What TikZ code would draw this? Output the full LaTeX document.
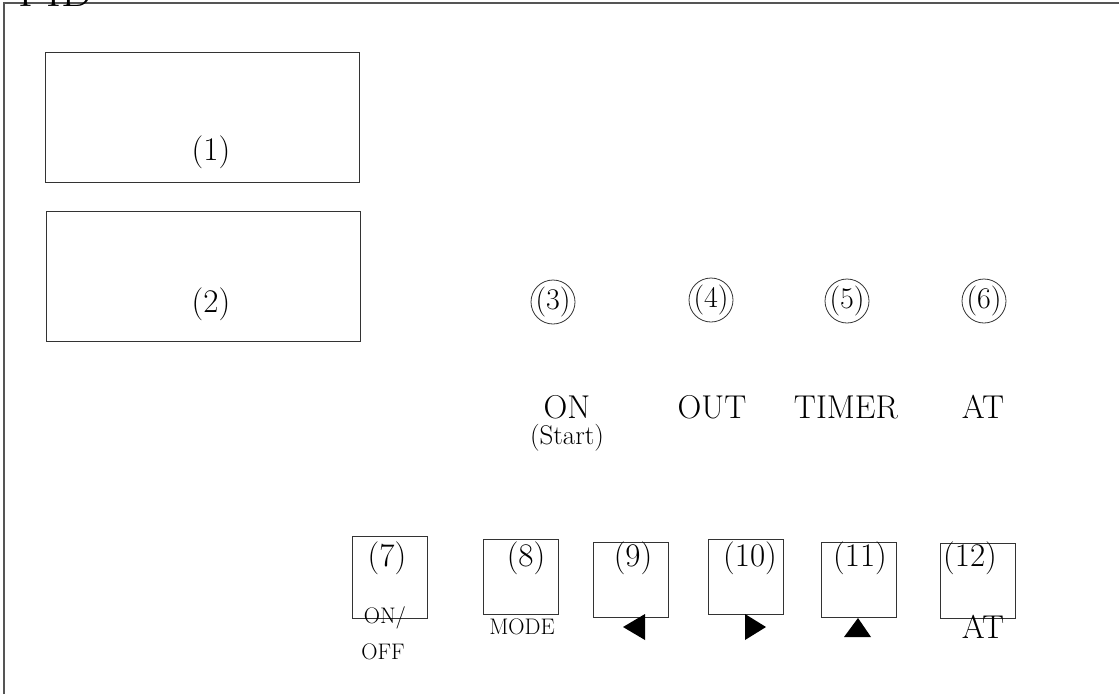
\documentclass[tikz,border=0pt]{standalone}
\usepackage{xcolor}
\definecolor{edge}{HTML}{333333}
\definecolor{frame}{HTML}{555555}
\newcommand{\lampno}[1]{{(#1)}}

\begin{document}
\begin{tikzpicture}[x=1pt,y=-1pt,line width=0.8pt,
    font=\fontsize{33}{37}\selectfont,
    disp/.style={draw=edge,minimum width=314pt,minimum height=130pt,inner sep=0pt},
    lamp/.style={draw=edge,circle,inner sep=-2pt,minimum size=44pt,font=\fontsize{30}{34}\selectfont},
    key/.style={draw=edge,minimum width=75pt,minimum height=75pt,inner sep=0pt},
    small/.style={font=\fontsize{22.5}{26}\selectfont}]
  \useasboundingbox (0,0) rectangle (1119,694);

  % outer frame, title mostly above the page
  \draw[line width=1.2pt,frame] (4,694) -- (4,3) -- (1119,3);
  \node[anchor=base west,inner sep=0pt,font=\fontsize{45}{50}\selectfont] (title) at (18,6) {PID};

  % the two displays
  \node[disp](d1) at (202,117) {};
  \node(n1) at (211,152) {(1)};
  \node[disp](d2) at (203,276) {};
  \node(n2) at (211,304) {(2)};

  % lamps
  \node[lamp](l3) at (553,302) {\lampno{3}};
  \node[lamp](l4) at (711,300) {\lampno{4}};
  \node[lamp](l5) at (847,301) {\lampno{5}};
  \node[lamp](l6) at (984,301) {\lampno{6}};

  \node(on) at (567,407) {ON};
  \node[font=\fontsize{27}{30}\selectfont](start) at (567,438) {(Start)};
  \node(out) at (712,407) {OUT};
  \node(timer) at (846,407) {TIMER};
  \node(at) at (983,407) {AT};

  % keys
  \node[key,minimum height=82pt](k7) at (389.5,577) {};
  \node(n7) at (387,558) {(7)};
  \node[small](onoff) at (385,618) {ON/};
  \node[small](off) at (383,652) {OFF};

  \node[key](k8) at (521,576.5) {};
  \node(n8) at (526,558) {(8)};
  \node[small](mode) at (522,627) {MODE};

  \node[key](k9) at (631,579.5) {};
  \node(n9) at (633,558) {(9)};
  \fill (623,627) -- (645,614) -- (645,640) -- cycle;

  \node[key](k10) at (745.5,576.5) {};
  \node(n10) at (750,558) {(10)};
  \fill (766,627) -- (745,614) -- (745,640) -- cycle;

  \node[key](k11) at (859,579.5) {};
  \node(n11) at (860,558) {(11)};
  \fill (858,618) -- (871,637) -- (844,637) -- cycle;

  \node[key](k12) at (978,580.5) {};
  \node(n12) at (970,558) {(12)};
  \node(at2) at (983,627) {AT};

\end{tikzpicture}
\end{document}
